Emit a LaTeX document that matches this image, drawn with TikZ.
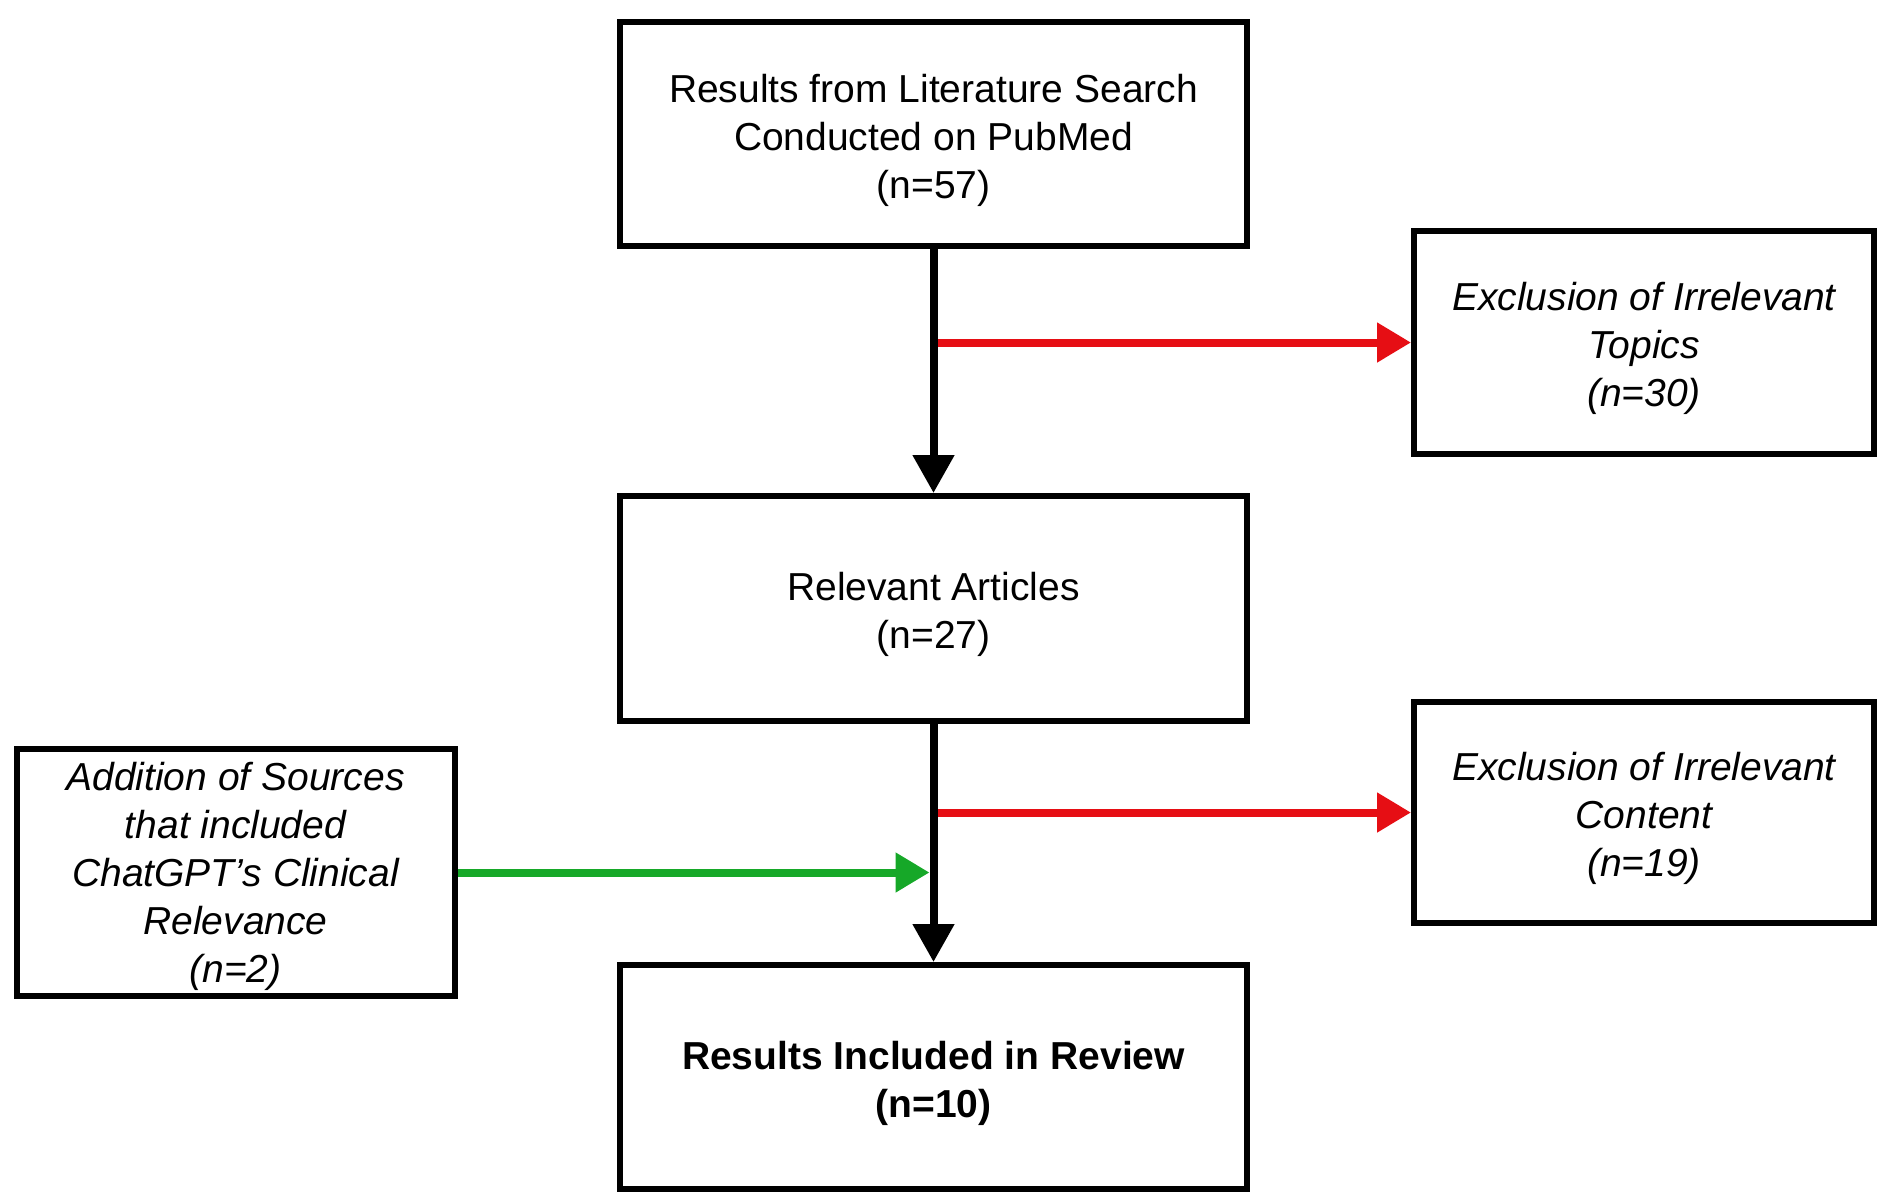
\documentclass[tikz,border=0pt]{standalone}
\usepackage{fontspec}
\setmainfont{Liberation Sans}
\usetikzlibrary{arrows.meta}
\definecolor{exred}{RGB}{230,14,20}
\definecolor{addgreen}{RGB}{22,168,40}
\tikzset{
  stagebox/.style={draw=black, line width=6pt, fill=white, inner sep=0pt},
  boxtext/.style={align=center, inner sep=0pt, yshift=-6pt,
    font=\fontsize{39}{48}\selectfont},
  sidetext/.style={boxtext, font=\fontsize{39}{48}\selectfont\itshape},
  flowarrow/.style={line width=8pt, draw=black,
    -{Triangle[length=38pt,width=40pt]}},
  exclarrow/.style={line width=8pt, draw=exred,
    -{Triangle[length=34pt,width=38pt]}},
  addarrow/.style={line width=8pt, draw=addgreen,
    -{Triangle[length=34pt,width=38pt]}}
}
\begin{document}
\begin{tikzpicture}[x=1pt, y=-1pt]
\useasboundingbox (0,0) rectangle (1879,1192);
\fill[white] (0,0) rectangle (1879,1192);
\clip (0,0) rectangle (1879,1192);

% main column
\node[stagebox, minimum width=627pt, minimum height=224pt,
  label={[boxtext]center:{Results from Literature Search\\Conducted on PubMed\\(n=57)}}]
  (search) at (933.5,134) {};
\node[stagebox, minimum width=627pt, minimum height=225pt,
  label={[boxtext]center:{Relevant Articles\\(n=27)}}]
  (relevant) at (933.5,608.5) {};
\node[stagebox, minimum width=627pt, minimum height=224pt,
  label={[boxtext]center:{\bfseries Results Included in Review\\\bfseries (n=10)}}]
  (review) at (933.5,1077) {};

% side boxes
\node[stagebox, minimum width=460pt, minimum height=223pt,
  label={[sidetext]center:{Exclusion of Irrelevant\\Topics\\(n=30)}}]
  (topics) at (1644,342.5) {};
\node[stagebox, minimum width=460pt, minimum height=221pt,
  label={[sidetext]center:{Exclusion of Irrelevant\\Content\\(n=19)}}]
  (content) at (1644,812.5) {};
\node[stagebox, minimum width=438pt, minimum height=247pt,
  label={[sidetext, yshift=2pt]center:{Addition of Sources\\that included\\ChatGPT's Clinical\\Relevance\\(n=2)}}]
  (sources) at (235.5,872.5) {};

% branches
\draw[exclarrow] (search.south |- topics.west) -- (topics.west);
\draw[exclarrow] (relevant.south |- content.west) -- (content.west);
\draw[addarrow, shorten >=4pt] (sources.east) -- (sources.east -| relevant.south);

% main flow
\draw[flowarrow] (search.south) -- (relevant.north);
\draw[flowarrow] (relevant.south) -- (review.north);
\end{tikzpicture}
\end{document}
